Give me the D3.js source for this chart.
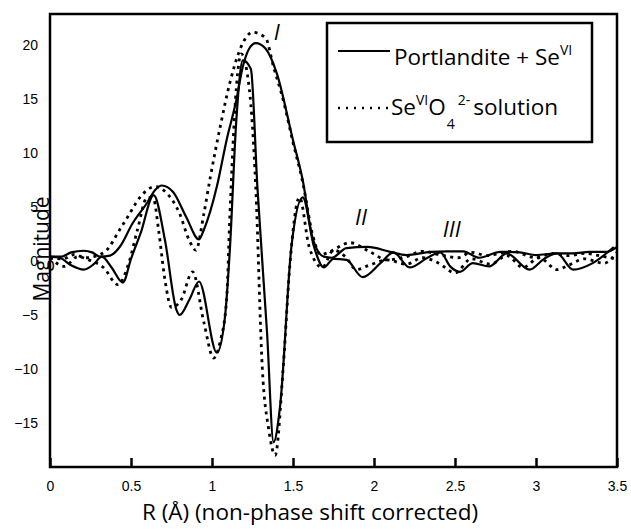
<!DOCTYPE html>
<html>
<head>
<meta charset="utf-8">
<script src="https://cdn.jsdelivr.net/npm/d3@7"></script>
<style>
  body { margin: 0; background: #fff; }
  svg { display: block; }
</style>
</head>
<body>
<svg width="631" height="529"></svg>
<script>
// [R (Å), value] pairs
const portMag = [[0,0.4],[0.07,0.4],[0.13,0.8],[0.21,0.95],[0.26,0.8],[0.31,0.4],[0.37,0.5],[0.43,1.3],[0.51,3.5],[0.60,5.4],[0.65,6.6],[0.69,7.0],[0.76,6.4],[0.84,4.1],[0.92,2.0],[0.95,2.9],[1.03,6.9],[1.09,11.2],[1.15,14.9],[1.19,18],[1.23,19.7],[1.27,20.2],[1.33,19.7],[1.40,17.4],[1.50,11.2],[1.56,7.5],[1.62,2.2],[1.69,0.4],[1.74,0.3],[1.83,1.2],[1.96,1.3],[2.10,0.85],[2.20,0.55],[2.35,0.85],[2.45,0.9],[2.55,0.9],[2.65,0.3],[2.78,0.85],[2.90,0.8],[3.00,0.55],[3.13,0.7],[3.23,0.7],[3.33,0.85],[3.44,0.85],[3.50,1.3]];
const portIm = [[0,0.4],[0.06,0.3],[0.13,-0.4],[0.21,-0.8],[0.27,-0.3],[0.32,0.4],[0.38,-0.6],[0.45,-2.0],[0.50,0.2],[0.56,2.6],[0.64,6.1],[0.71,1.9],[0.78,-4.5],[0.80,-5.0],[0.86,-3.6],[0.92,-1.9],[1.03,-8.5],[1.08,-5.2],[1.11,1.0],[1.15,13],[1.19,18.6],[1.24,17.8],[1.28,6.9],[1.34,-6.7],[1.38,-16.8],[1.42,-13.5],[1.49,1.3],[1.56,5.9],[1.63,1.3],[1.69,-0.6],[1.75,0.2],[1.83,0.1],[1.93,-1.5],[2.04,-0.2],[2.12,0.8],[2.22,-0.6],[2.33,0.3],[2.41,0.8],[2.47,-0.5],[2.53,-1.0],[2.61,-0.2],[2.71,-0.5],[2.82,0.7],[2.96,-0.8],[3.05,0.2],[3.13,0.7],[3.23,-0.8],[3.35,-0.2],[3.48,1.3]];
const solMag = [[0,0.3],[0.08,0.2],[0.15,0.6],[0.22,0.3],[0.29,0.5],[0.35,1.0],[0.43,2.9],[0.48,4.1],[0.55,5.8],[0.65,6.9],[0.72,6.3],[0.80,4.4],[0.86,1.9],[0.90,1.0],[0.95,4.4],[0.99,7.8],[1.05,12.4],[1.11,16.5],[1.17,19.5],[1.25,21.2],[1.33,20.7],[1.38,18],[1.44,14.9],[1.50,11.0],[1.56,7.3],[1.62,2.5],[1.67,0.6],[1.72,0.8],[1.77,1.2],[1.85,1.7],[1.98,0.8],[2.08,0.1],[2.20,0.4],[2.30,0.9],[2.40,0.6],[2.52,0.3],[2.60,0.8],[2.70,0.5],[2.85,0.9],[3.00,0.3],[3.10,0.7],[3.20,0.5],[3.30,0.7],[3.42,0.4],[3.50,0.2]];
const solIm = [[0,0.3],[0.09,-0.5],[0.17,0.4],[0.24,0.1],[0.33,-0.6],[0.42,-2.2],[0.49,0],[0.54,2.9],[0.60,5.9],[0.64,5.7],[0.67,2.9],[0.71,-1.8],[0.75,-4.3],[0.81,-3.6],[0.88,-1.0],[0.95,-5.7],[1.01,-9.0],[1.05,-7.5],[1.09,-3.6],[1.11,4.1],[1.15,16],[1.18,19.2],[1.23,16],[1.27,6.9],[1.31,-9.8],[1.35,-15.6],[1.39,-18],[1.44,-9.8],[1.48,-0.5],[1.54,5.9],[1.60,1.3],[1.68,-0.6],[1.75,1.0],[1.83,0.3],[1.89,-0.8],[1.97,-0.4],[2.08,0.1],[2.20,-0.3],[2.30,0.3],[2.40,-0.2],[2.50,-1.1],[2.60,0.2],[2.72,-0.3],[2.82,0.5],[2.92,-0.6],[3.02,0.3],[3.13,-0.8],[3.20,-0.4],[3.30,0.2],[3.42,-0.2],[3.50,0.8]];

const xTicks = [0, 0.5, 1, 1.5, 2, 2.5, 3, 3.5];
const yTicks = [-15, -10, -5, 0, 5, 10, 15, 20];
const shellLabels = [
  {text: "I", r: 1.4, v: 20.5},
  {text: "II", r: 1.92, v: 3.3},
  {text: "III", r: 2.48, v: 2.2}
];

const LABEL_FONT = "'Open Sans', sans-serif";
const TICK_FONT = "'Liberation Sans', Arial, sans-serif";

const svg = d3.select("svg");
const plotLeft = 50, plotRight = 617, plotTop = 14, plotBottom = 467;

const x = d3.scaleLinear().domain([0, 3.5]).range([plotLeft, plotRight]);
const y = d3.scaleLinear().domain([-19.1, 22.9]).range([plotBottom, plotTop]);

const line = d3.line()
  .x(d => x(d[0]))
  .y(d => y(d[1]))
  .curve(d3.curveMonotoneX);

const plot = svg.append("g");

// dotted first so solid lines sit on top
[solMag, solIm].forEach(s => {
  plot.append("path")
    .datum(s)
    .attr("d", line)
    .attr("fill", "none")
    .attr("stroke", "#000")
    .attr("stroke-width", 2.8)
    .attr("stroke-dasharray", "3,4.5");
});

[portMag, portIm].forEach(s => {
  plot.append("path")
    .datum(s)
    .attr("d", line)
    .attr("fill", "none")
    .attr("stroke", "#000")
    .attr("stroke-width", 2.2);
});

// x axis with inward ticks
const xAxis = d3.axisBottom(x)
  .tickValues(xTicks)
  .tickSizeInner(-9)
  .tickSizeOuter(0)
  .tickPadding(14)
  .tickFormat(d3.format("~g"));

const gx = svg.append("g")
  .attr("transform", `translate(0,${plotBottom})`)
  .call(xAxis);
gx.select(".domain").remove();
gx.selectAll(".tick line").attr("stroke-width", 2.5);
gx.selectAll(".tick text")
  .attr("font-family", TICK_FONT)
  .attr("font-size", 14)
  .attr("fill", "#000");

// y axis labels only
const yAxis = d3.axisLeft(y)
  .tickValues(yTicks)
  .tickSize(0)
  .tickPadding(12);

const gy = svg.append("g")
  .attr("transform", `translate(${plotLeft},0)`)
  .call(yAxis);
gy.select(".domain").remove();
gy.selectAll(".tick text")
  .attr("font-family", TICK_FONT)
  .attr("font-size", 14)
  .attr("fill", "#000");

// frame
svg.append("rect")
  .attr("x", plotLeft)
  .attr("y", plotTop)
  .attr("width", plotRight - plotLeft)
  .attr("height", plotBottom - plotTop)
  .attr("fill", "none")
  .attr("stroke", "#000")
  .attr("stroke-width", 2.5);

// axis titles
svg.append("text")
  .attr("x", 310)
  .attr("y", 520)
  .attr("text-anchor", "middle")
  .attr("font-family", LABEL_FONT)
  .attr("font-size", 22.5)
  .text("R (Å) (non-phase shift corrected)");

svg.append("text")
  .attr("transform", "translate(49,249) rotate(-90)")
  .attr("text-anchor", "middle")
  .attr("font-family", LABEL_FONT)
  .attr("font-size", 21)
  .text("Magnitude");

// shell labels
svg.selectAll(".shell")
  .data(shellLabels)
  .enter()
  .append("text")
  .attr("class", "shell")
  .attr("x", d => x(d.r))
  .attr("y", d => y(d.v))
  .attr("text-anchor", "middle")
  .attr("font-family", LABEL_FONT)
  .attr("font-style", "italic")
  .attr("font-size", 22)
  .text(d => d.text);

// legend
const legend = svg.append("g");
legend.append("rect")
  .attr("x", 327)
  .attr("y", 23)
  .attr("width", 265)
  .attr("height", 119)
  .attr("fill", "#fff")
  .attr("stroke", "#000")
  .attr("stroke-width", 2.5);

legend.append("line")
  .attr("x1", 338).attr("x2", 390)
  .attr("y1", 51).attr("y2", 51)
  .attr("stroke", "#000")
  .attr("stroke-width", 2);
legend.append("line")
  .attr("x1", 338).attr("x2", 390)
  .attr("y1", 108).attr("y2", 108)
  .attr("stroke", "#000")
  .attr("stroke-width", 2.4)
  .attr("stroke-dasharray", "2,6");

const t1 = legend.append("text")
  .attr("x", 394)
  .attr("y", 65)
  .attr("font-family", LABEL_FONT)
  .attr("font-size", 22.5);
t1.append("tspan").text("Portlandite + Se");
t1.append("tspan").attr("font-size", 14).attr("dy", -10).text("VI");

const t2 = legend.append("text")
  .attr("x", 391)
  .attr("y", 115)
  .attr("font-family", LABEL_FONT)
  .attr("font-size", 22.5);
t2.append("tspan").text("Se");
t2.append("tspan").attr("font-size", 14).attr("dy", -10).text("VI");
t2.append("tspan").attr("dy", 10).text("O");
t2.append("tspan").attr("font-size", 14).attr("dy", 14).attr("dx", 1).text("4");
t2.append("tspan").attr("font-size", 14).attr("dy", -24).attr("dx", 3).text("2-");
t2.append("tspan").attr("dy", 10).attr("dx", 3).text("solution");
</script>
</body>
</html>
